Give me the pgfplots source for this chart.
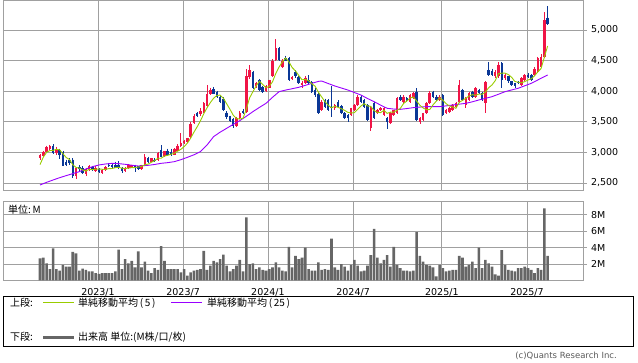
\documentclass[border=0pt]{standalone}
\usepackage{fontspec}
\setmainfont{DejaVu Sans}
\newfontfamily\jp{Noto Sans CJK JP}
\usepackage{pgfplots}
\usepackage{pgfplotstable}
\pgfplotsset{compat=1.18}
\definecolor{candred}{RGB}{240,20,70}
\definecolor{candblue}{RGB}{10,55,150}
\definecolor{magreen}{RGB}{153,204,0}
\definecolor{mapurple}{RGB}{153,0,255}
\definecolor{volgray}{RGB}{102,102,102}
\definecolor{gridgray}{RGB}{160,160,160}

\pgfplotstableread{
i O H L C
0 2900 2975 2880 2960
1 2940 3030 2920 3010
2 3010 3110 2990 3090
3 3060 3125 3040 3110
5 2990 3090 2960 3050
11 2610 2760 2570 2740
14 2640 2750 2620 2730
15 2720 2790 2700 2770
17 2700 2770 2680 2750
19 2660 2720 2640 2710
20 2710 2780 2700 2760
26 2690 2760 2680 2740
27 2740 2810 2730 2790
28 2750 2800 2740 2790
31 2720 2800 2710 2790
32 2790 2970 2780 2930
34 2850 2910 2840 2900
36 2870 3000 2860 2990
38 2940 3030 2930 3020
41 2960 3070 2950 3060
42 3030 3130 3020 3110
43 3100 3310 3090 3160
44 3150 3210 3140 3190
45 3170 3240 3160 3230
46 3250 3490 3240 3470
47 3480 3620 3460 3600
49 3620 3720 3600 3680
50 3660 3820 3650 3800
51 3760 4100 3740 3960
52 3960 4060 3940 4020
60 3430 3580 3410 3560
61 3560 3680 3540 3650
63 3660 4360 3650 4250
64 4230 4420 4200 4350
66 4080 4150 4060 4130
69 4010 4100 3990 4080
70 4060 4190 4050 4180
71 4240 4520 4230 4500
72 4510 4850 4490 4700
74 4390 4520 4380 4500
77 4200 4250 4180 4230
80 4100 4160 4060 4140
81 4130 4240 4120 4220
86 3693 3850 3670 3829
90 3720 3790 3700 3774
95 3610 3730 3590 3720
96 3693 3790 3680 3774
97 3774 3930 3760 3910
101 3393 3760 3355 3747
103 3638 3710 3620 3693
104 3693 3740 3680 3720
105 3610 3740 3590 3720
107 3485 3660 3470 3649
108 3610 3700 3590 3690
109 3638 3900 3620 3883
111 3829 3930 3810 3910
113 3829 3960 3810 3937
114 3883 3990 3870 3965
116 3502 3570 3460 3556
117 3529 3650 3510 3638
118 3638 3820 3620 3801
119 3801 4000 3790 3976
122 3856 3930 3840 3910
124 3638 3710 3620 3693
125 3665 3740 3650 3720
126 3693 3790 3680 3774
127 3747 3820 3730 3801
128 3829 4183 3810 4101
130 3774 3900 3720 3883
131 3856 3990 3840 3965
133 3910 4070 3890 4047
136 3800 4160 3640 4150
139 4240 4340 4220 4320
140 4240 4470 4220 4430
142 4210 4290 4190 4265
147 4100 4230 4090 4210
148 4180 4280 4170 4260
151 4270 4390 4250 4370
152 4320 4560 4300 4540
153 4400 4600 4380 4560
154 4560 5290 4540 5160
}\upT

\pgfplotstableread{
i O H L C
4 3110 3130 2970 2990
6 3040 3060 2890 2960
7 3010 3030 2770 2780
8 2840 2880 2780 2800
9 2870 2900 2800 2830
10 2880 2900 2580 2620
12 2760 2790 2700 2720
13 2740 2770 2640 2660
16 2760 2780 2690 2710
18 2720 2740 2660 2680
21 2800 2830 2760 2770
22 2790 2810 2740 2760
23 2790 2850 2740 2750
24 2800 2860 2720 2740
25 2740 2760 2670 2690
29 2780 2800 2680 2750
30 2770 2780 2710 2730
33 2900 2930 2820 2840
35 2880 2900 2840 2860
37 3040 3120 2920 2930
39 3030 3060 2950 2960
40 3000 3060 2940 2950
48 3640 3660 3580 3600
53 4030 4070 3950 3960
54 3990 4010 3890 3910
55 3900 3920 3810 3830
56 3880 3900 3680 3700
57 3650 3670 3550 3570
58 3590 3600 3490 3510
59 3540 3560 3400 3430
62 3680 3710 3620 3640
65 4310 4330 4040 4060
67 4180 4200 4000 4020
68 4070 4090 3970 3990
73 4700 4720 4490 4510
75 4540 4580 4490 4500
76 4540 4560 4170 4190
78 4320 4340 4220 4240
79 4230 4250 4110 4130
82 4180 4260 4110 4130
83 4150 4170 3970 3990
84 4020 4050 3910 3930
85 3960 3980 3620 3650
87 3856 3880 3730 3747
88 3856 3870 3680 3693
89 3747 4085 3580 3720
91 3829 3850 3730 3747
92 3758 3780 3620 3638
93 3638 3660 3540 3556
94 3610 3620 3500 3556
98 3910 3930 3810 3829
99 3856 3880 3730 3747
100 3774 3790 3510 3529
102 3801 3820 3540 3556
106 3556 3570 3377 3502
110 3910 3940 3840 3856
112 3883 3900 3830 3856
115 3992 4050 3510 3529
120 3992 4010 3890 3910
121 3910 3930 3840 3856
123 3937 3960 3590 3610
129 4019 4040 3840 3856
132 3992 4010 3890 3910
134 4019 4040 3950 3965
135 3965 3990 3840 3856
137 4346 4480 4250 4265
138 4330 4370 4250 4270
141 4456 4470 4060 4183
143 4240 4250 4140 4160
144 4160 4170 4080 4100
145 4130 4140 4060 4080
146 4150 4170 4110 4130
149 4260 4290 4220 4230
150 4260 4280 4170 4180
155 5200 5390 5080 5090
}\downT

\pgfplotstableread{
i v
0 2800
1 2920
2 3000
3 3030
4 3032
5 3050
6 3040
7 2978
8 2916
9 2884
10 2798
11 2754
12 2742
13 2714
14 2694
15 2724
16 2718
17 2724
18 2728
19 2724
20 2722
21 2734
22 2736
23 2750
24 2756
25 2742
26 2736
27 2742
28 2750
29 2752
30 2760
31 2770
32 2798
33 2808
34 2838
35 2864
36 2904
37 2904
38 2940
39 2952
40 2970
41 2984
42 3020
43 3048
44 3094
45 3150
46 3232
47 3330
48 3418
49 3516
50 3630
51 3728
52 3812
53 3884
54 3930
55 3936
56 3884
57 3794
58 3704
59 3608
60 3554
61 3544
62 3558
63 3706
64 3890
65 3990
66 4086
67 4162
68 4110
69 4056
70 4080
71 4154
72 4290
73 4394
74 4478
75 4542
76 4480
77 4386
78 4332
79 4258
80 4186
81 4192
82 4172
83 4122
84 4082
85 3984
86 3906
87 3829
88 3770
89 3728
90 3753
91 3736
92 3714
93 3687
94 3654
95 3643
96 3649
97 3703
98 3758
99 3796
100 3758
101 3752
102 3682
103 3654
104 3649
105 3687
106 3638
107 3657
108 3656
109 3689
110 3716
111 3798
112 3839
113 3888
114 3905
115 3839
116 3769
117 3725
118 3698
119 3700
120 3776
121 3836
122 3891
123 3852
124 3796
125 3758
126 3741
127 3720
128 3818
129 3850
130 3883
131 3921
132 3943
133 3932
134 3954
135 3949
136 3986
137 4057
138 4101
139 4172
140 4287
141 4294
142 4294
143 4272
144 4228
145 4158
146 4147
147 4136
148 4156
149 4182
150 4202
151 4250
152 4316
153 4370
154 4556
155 4738
}\maFive

\pgfplotstableread{
i v
0 2467
2 2510
4 2549
6 2586
8 2620
10 2652
12 2685
14 2728
16 2766
18 2794
20 2810
22 2821
24 2816
26 2805
28 2790
30 2777
33 2788
35 2802
37 2821
39 2832
41 2848
43 2880
45 2919
47 2960
49 3012
51 3120
53 3257
55 3330
57 3393
59 3458
61 3518
63 3590
65 3665
67 3735
69 3801
71 3900
73 3992
75 4018
77 4040
79 4063
81 4095
83 4128
85 4160
86 4166
88 4125
90 4085
92 4052
94 4019
96 3978
98 3937
100 3880
102 3829
104 3772
106 3720
108 3708
110 3703
112 3716
114 3731
116 3740
118 3747
120 3748
122 3747
124 3760
126 3774
128 3788
130 3801
132 3826
134 3856
136 3882
138 3910
140 3950
142 3992
144 4020
146 4047
148 4088
150 4128
152 4183
154 4238
155 4265
}\maTwentyFive

\pgfplotstableread{
i v
0 2.7
1 2.8
2 2.1
3 1.4
4 3.9
5 1.4
6 1.2
7 1.9
8 1.7
9 1.7
10 3.5
11 3.3
12 1.2
13 1.45
14 1.3
15 1.1
16 1.1
17 0.9
18 0.8
19 0.9
20 0.9
21 0.9
22 0.9
23 1.1
24 3.75
25 1.4
26 2.6
27 2.1
28 2.4
29 1.6
30 3.55
31 1.6
32 2.3
33 1.2
34 0.9
35 1.5
36 1.3
37 4.2
38 2.4
39 1.4
40 1.4
41 1.4
42 1.4
43 1.0
44 1.4
45 0.6
46 1.0
47 1.2
48 1.3
49 1.4
50 3.6
51 1.3
52 1.8
53 2.4
54 2.2
55 2.6
56 3.15
57 1.8
58 1.1
59 1.4
60 1.8
61 2.5
62 1.1
63 7.7
64 2.0
65 2.1
66 1.4
67 1.6
68 1.3
69 1.2
70 1.4
71 1.6
72 2.2
73 1.6
74 1.2
75 1.1
76 4.1
77 1.6
78 3.0
79 2.6
80 2.8
81 4.0
82 1.4
83 1.2
84 1.2
85 2.2
86 1.3
87 1.4
88 1.3
89 5.1
90 1.6
91 1.3
92 2.0
93 1.7
94 1.2
95 1.9
96 2.5
97 1.8
98 1.1
99 1.2
100 1.8
101 3.1
102 6.3
103 2.8
104 2.1
105 2.5
106 3.1
107 1.7
108 4.1
109 1.9
110 1.5
111 1.2
112 1.2
113 1.1
114 1.2
115 5.9
116 3.0
117 2.3
118 1.9
119 1.8
120 1.6
121 0.5
122 1.9
123 1.5
124 1.1
125 1.2
126 1.3
127 1.3
128 3.0
129 2.8
130 1.7
131 1.9
132 2.3
133 1.5
134 4.0
135 1.5
136 2.5
137 2.1
138 1.7
139 0.75
140 0.6
141 3.7
142 1.9
143 1.3
144 1.2
145 1.1
146 1.5
147 1.5
148 1.7
149 1.5
150 1.3
151 0.9
152 1.5
153 1.3
154 8.8
155 3.0
}\volT

\pgfplotsset{
  chartbase/.style={
    scale only axis,
    width=580pt,
    xmin=-11.3, xmax=165.8,
    axis line style={draw=gridgray, line width=0.8pt},
    xtick={17.7,43.7,69.6,95.6,122.7,148.7},
    xtick style={draw=none},
    ytick pos=right, yticklabel pos=right,
    ytick style={draw=gridgray, line width=0.8pt},
    tick align=outside, major tick length=4pt,
    grid=major, major grid style={draw=gridgray, line width=0.8pt},
    /pgf/number format/assume math mode=true,
    tick label style={font=\fontsize{9.5}{11}\selectfont},
    yticklabel style={xshift=0.5pt},
  },
  wick/.style={draw=none, mark=none, forget plot,
    error bars/.cd, y dir=minus, y explicit, error mark=none,
    error bar style={draw=#1, line width=0.7pt}},
  body/.style={draw=none, mark=none, forget plot,
    error bars/.cd, y dir=minus, y explicit, error mark=none,
    error bar style={draw=#1, line width=2.5pt}},
}
\newcommand{\jpf}{\jp\fontsize{10}{12}\selectfont}

\begin{document}
\begin{tikzpicture}
% price panel
\begin{axis}[chartbase,
  at={(3pt,172pt)}, anchor=south west,
  height=190pt,
  ymin=2385, ymax=5490,
  ytick={2500,3000,3500,4000,4500,5000},
  xticklabels={},
  scaled y ticks=false,
  /pgf/number format/1000 sep={,},
]
\addplot[wick=candred] table[x=i, y=H, y error minus expr=\thisrow{H}-\thisrow{L}] {\upT};
\addplot[wick=candblue] table[x=i, y=H, y error minus expr=\thisrow{H}-\thisrow{L}] {\downT};
\addplot[body=candred] table[x=i, y=C, y error minus expr=\thisrow{C}-\thisrow{O}] {\upT};
\addplot[body=candblue] table[x=i, y=O, y error minus expr=\thisrow{O}-\thisrow{C}] {\downT};
\addplot[mapurple, line width=0.9pt, mark=none] table[x=i, y=v] {\maTwentyFive};
\addplot[magreen, line width=0.9pt, mark=none] table[x=i, y=v] {\maFive};
\end{axis}
% volume panel
\begin{axis}[chartbase,
  at={(3pt,81.5pt)}, anchor=south west,
  height=78.8pt,
  ymin=0, ymax=9.6,
  ytick={2,4,6,8},
  yticklabels={2M,4M,6M,8M},
  xticklabels={2023/1,2023/7,2024/1,2024/7,2025/1,2025/7},
  xticklabel style={yshift=-0.5pt},
]
\addplot[ybar, bar width=2.6pt, fill=volgray, draw=none, mark=none] table[x=i, y=v] {\volT};
\node[anchor=north west, inner sep=0pt, font=\jpf] at ([xshift=5pt,yshift=-3pt]rel axis cs:0,1) {単位:\,M};
\end{axis}
% legend box
\draw[black, line width=0.8pt] (3pt,16pt) rectangle (633pt,66pt);
\node[anchor=west, inner sep=0pt, font=\jpf] at (10pt,59pt) {上段:};
\draw[magreen, line width=1pt] (43pt,59pt) -- (74pt,59pt);
\node[anchor=west, inner sep=0pt, font=\jpf] at (78pt,59pt) {単純移動平均\,(\,5\,)};
\draw[mapurple, line width=1pt] (171pt,59pt) -- (202pt,59pt);
\node[anchor=west, inner sep=0pt, font=\jpf] at (207pt,59pt) {単純移動平均\,(\,25\,)};
\node[anchor=west, inner sep=0pt, font=\jpf] at (10pt,25pt) {下段:};
\draw[volgray, line width=3pt] (43pt,25pt) -- (74pt,25pt);
\node[anchor=west, inner sep=0pt, font=\jpf] at (78pt,25pt) {出来高 単位:(M株/口/枚)};
\node[anchor=east, inner sep=0pt, text=black!65, font=\fontsize{8.5}{10}\selectfont] at (617pt,6pt) {(c)Quants Research Inc.};
\pgfresetboundingbox
\path (0pt,0pt) rectangle (638pt,362pt);
\end{tikzpicture}
\end{document}
